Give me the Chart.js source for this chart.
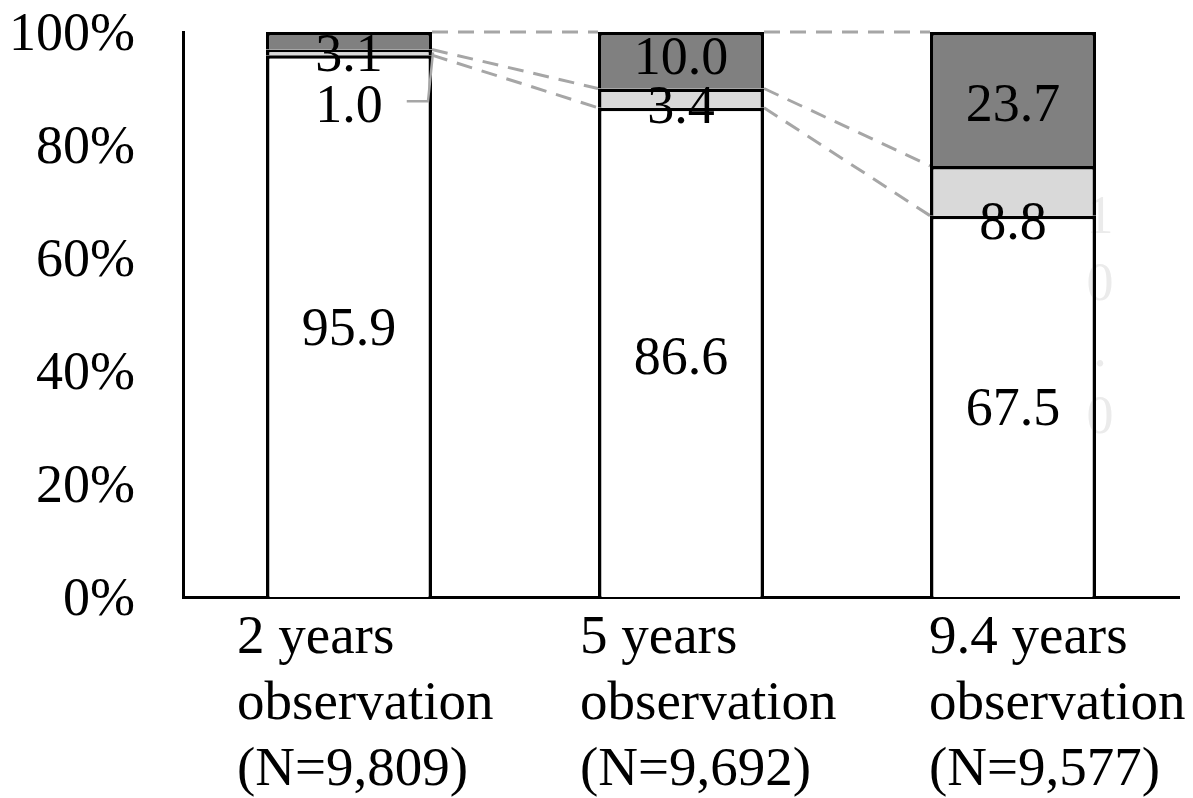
<!DOCTYPE html>
<html>
<head>
<meta charset="utf-8">
<script src="https://cdn.jsdelivr.net/npm/chart.js@4.4.1/dist/chart.umd.min.js"></script>
<style>
  html, body { margin: 0; padding: 0; background: #fff; }
  #wrap { width: 1193px; height: 798px; }
</style>
</head>
<body>
<div id="wrap"><canvas id="c" width="1193" height="798"></canvas></div>
<script>
// Observation periods (multi-line category labels)
const categories = [
  ['2 years', 'observation', '(N=9,809)'],
  ['5 years', 'observation', '(N=9,692)'],
  ['9.4 years', 'observation', '(N=9,577)']
];
// Stacked shares (%) per period, bottom to top
const lowerShare  = [95.9, 86.6, 67.5];
const middleShare = [1.0, 3.4, 8.8];
const upperShare  = [3.1, 10.0, 23.7];
// Y axis ticks
const yTickValues = [0, 20, 40, 60, 80, 100];
// Faint side note written vertically beside the last bar
const sideNote = '10.0';

// ---- styling ----
const SERIF = '"Liberation Serif", "Times New Roman", serif';
const segColors = ['#ffffff', '#d9d9d9', '#808080'];
// vertical nudges (px) of value labels within their segments
const labelNudge = [
  [1, 4, 1],
  [52, 7, 30],
  [12, -4, 4]
];
// label that sits outside its segment and gets a leader line
const leaderFor = { dataset: 1, index: 0 };
// left-aligned category label shift from the category centre
const xLabelShift = [-112, -101, -84];

// keep the plot box fixed: no extra room reserved for overhanging labels
function noScalePadding(s) {
  s.paddingLeft = 0; s.paddingRight = 0; s.paddingTop = 0; s.paddingBottom = 0;
}

const connectorPlugin = {
  id: 'connectors',
  beforeDatasetsDraw(chart) {
    const ctx = chart.ctx;
    ctx.save();
    ctx.strokeStyle = '#a6a6a6';
    ctx.lineWidth = 3;
    ctx.setLineDash([16, 10]);
    chart.data.datasets.forEach((ds, d) => {
      const els = chart.getDatasetMeta(d).data;
      for (let i = 0; i < els.length - 1; i++) {
        const a = els[i], b = els[i + 1];
        ctx.beginPath();
        ctx.moveTo(a.x + a.width / 2, a.y);
        ctx.lineTo(b.x - b.width / 2, b.y);
        ctx.stroke();
      }
    });
    ctx.restore();
  }
};

const valueLabelPlugin = {
  id: 'valueLabels',
  afterDatasetsDraw(chart) {
    const ctx = chart.ctx;
    const size = 54;
    ctx.save();
    ctx.font = size + 'px ' + SERIF;
    ctx.textAlign = 'center';
    ctx.textBaseline = 'alphabetic';
    ctx.fillStyle = '#000';
    chart.data.datasets.forEach((ds, d) => {
      const els = chart.getDatasetMeta(d).data;
      els.forEach((el, i) => {
        const txt = ds.data[i].toFixed(1);
        const segMid = (el.y + el.base) / 2;
        const cy = segMid + labelNudge[d][i];
        ctx.fillText(txt, el.x, cy + 0.33 * size);
        if (d === leaderFor.dataset && i === leaderFor.index) {
          const w = ctx.measureText(txt).width;
          const right = el.x + el.width / 2;
          ctx.save();
          ctx.strokeStyle = '#a6a6a6';
          ctx.lineWidth = 2.5;
          ctx.beginPath();
          ctx.moveTo(el.x + w / 2 + 24, cy - 3);
          ctx.lineTo(right - 4, cy - 3);
          ctx.lineTo(right + 1, segMid);
          ctx.stroke();
          ctx.restore();
        }
      });
    });

    // side note beside the last bar, one character per line
    const last = chart.getDatasetMeta(0).data[2];
    const nx = last.x + last.width / 2 + 4;
    ctx.globalCompositeOperation = 'darken';
    ctx.fillStyle = '#ebebeb';
    [...sideNote].forEach((ch, k) => {
      ctx.fillText(ch, nx, last.y + k * 66.5 + 0.33 * size);
    });
    ctx.restore();
  }
};

// left-aligned, multi-line category labels under each bar
const categoryLabelPlugin = {
  id: 'categoryLabels',
  afterDraw(chart) {
    const ctx = chart.ctx;
    const xs = chart.scales.x;
    const size = 55, lineH = 66;
    ctx.save();
    ctx.font = size + 'px ' + SERIF;
    ctx.textAlign = 'left';
    ctx.textBaseline = 'alphabetic';
    ctx.fillStyle = '#000';
    chart.data.labels.forEach((lines, i) => {
      const x0 = xs.getPixelForTick(i) + xLabelShift[i];
      lines.forEach((ln, k) => {
        ctx.fillText(ln, x0, xs.top + 56 + k * lineH);
      });
    });
    ctx.restore();
  }
};

new Chart(document.getElementById('c'), {
  type: 'bar',
  data: {
    labels: categories,
    datasets: [
      { label: 'lower',  data: lowerShare,  backgroundColor: segColors[0] },
      { label: 'middle', data: middleShare, backgroundColor: segColors[1] },
      { label: 'upper',  data: upperShare,  backgroundColor: segColors[2] }
    ].map(ds => Object.assign(ds, {
      borderColor: '#000',
      borderWidth: 3.5,
      barPercentage: 0.5,
      categoryPercentage: 1.0
    }))
  },
  options: {
    responsive: false,
    devicePixelRatio: 1,
    animation: false,
    layout: { padding: { top: 32, right: 14, left: 0, bottom: 0 } },
    plugins: { legend: { display: false }, tooltip: { enabled: false } },
    scales: {
      x: {
        stacked: true,
        grid: { display: false, drawTicks: false },
        border: { display: true, color: '#000', width: 3 },
        ticks: { display: false },
        afterFit: (s) => { s.height = 201; noScalePadding(s); }
      },
      y: {
        stacked: true,
        min: 0,
        max: 100,
        grid: { display: false, drawTicks: false },
        border: { display: true, color: '#000', width: 3 },
        afterBuildTicks: (s) => { s.ticks = yTickValues.map(v => ({ value: v })); },
        ticks: {
          color: '#000',
          font: { family: SERIF, size: 54 },
          padding: 48,
          labelOffset: 4,
          callback: (v) => v + '%'
        },
        afterFit: (s) => { s.width = 183; noScalePadding(s); }
      }
    }
  },
  plugins: [connectorPlugin, valueLabelPlugin, categoryLabelPlugin]
});
</script>
</body>
</html>
